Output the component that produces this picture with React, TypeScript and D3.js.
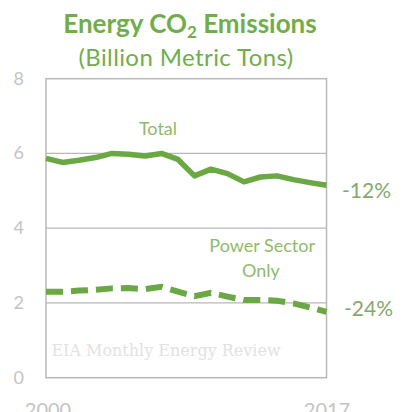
import React from "react";
import * as d3 from "d3";

const years = [2000,2001,2002,2003,2004,2005,2006,2007,2008,2009,2010,2011,2012,2013,2014,2015,2016,2017];
const totalValues = [5.87,5.76,5.82,5.89,6.0,5.98,5.93,6.0,5.84,5.40,5.58,5.46,5.24,5.37,5.40,5.30,5.22,5.15];
const powerValues = [2.30,2.30,2.33,2.35,2.39,2.40,2.37,2.43,2.30,2.18,2.27,2.17,2.08,2.08,2.06,1.99,1.88,1.76];
const yTicks = [0,2,4,6,8];
const xTickLabels = ["2000","2017"];

export default function App() {
  const W = 404, H = 412;
  const x = d3.scaleLinear().domain([2000, 2017]).range([46, 326.5]);
  const y = d3.scaleLinear().domain([0, 8]).range([377.7, 78.7]);
  const line = d3.line<number>().x((_, i) => x(years[i])).y(d => y(d)).curve(d3.curveLinear);
  const green = "#6aa844";
  const font = "Lato, 'Open Sans', sans-serif";
  return (
    <svg width={W} height={H} style={{ position: "absolute", left: 0, top: 0 }} fontFamily={font}>
      <rect width={W} height={H} fill="#fff" />
      <text x={190} y={33} textAnchor="middle" fontSize={26} fontWeight="bold" fill="#72ad4c">
        Energy CO<tspan fontSize={17} dy={5}>2</tspan><tspan dy={-5}> Emissions</tspan>
      </text>
      <text x={186} y={66} textAnchor="middle" fontSize={24} letterSpacing={0.4} fill="#72ad4c">(Billion Metric Tons)</text>
      {yTicks.map(t => (
        <g key={t}>
          {t > 0 && t < 8 && <line x1={46} x2={326.5} y1={y(t)} y2={y(t)} stroke="#b8b8b8" strokeWidth={1.3} />}
          <text x={24} y={y(t) + 6} textAnchor="end" fontSize={18} fill="#c4c4c4">{t}</text>
        </g>
      ))}
      <rect x={46} y={78.7} width={280.5} height={299} fill="none" stroke="#b8b8b8" strokeWidth={1.5} />
      <text x={48} y={417} textAnchor="middle" fontSize={20} fill="#c4c4c4">{xTickLabels[0]}</text>
      <text x={327} y={417} textAnchor="middle" fontSize={20} fill="#c4c4c4">{xTickLabels[1]}</text>
      <text x={166} y={356} textAnchor="middle" fontSize={16} fill="#e2e2e2" fontFamily="'DejaVu Serif', serif">EIA Monthly Energy Review</text>
      <path d={line(totalValues) || ""} fill="none" stroke={green} strokeWidth={5.5} strokeLinejoin="round" />
      <path d={line(powerValues) || ""} fill="none" stroke={green} strokeWidth={6} strokeDasharray="17 8" />
      <text x={158} y={135} textAnchor="middle" fontSize={18} fill="#8dbb6a">Total</text>
      <text x={315} y={252} textAnchor="end" fontSize={18} fill="#8dbb6a">Power Sector</text>
      <text x={261} y={277} textAnchor="middle" fontSize={18} fill="#8dbb6a">Only</text>
      <text x={342} y={198} fontSize={21} fill="#86a870">-12%</text>
      <text x={344} y={316} fontSize={21} fill="#86a870">-24%</text>
    </svg>
  );
}
